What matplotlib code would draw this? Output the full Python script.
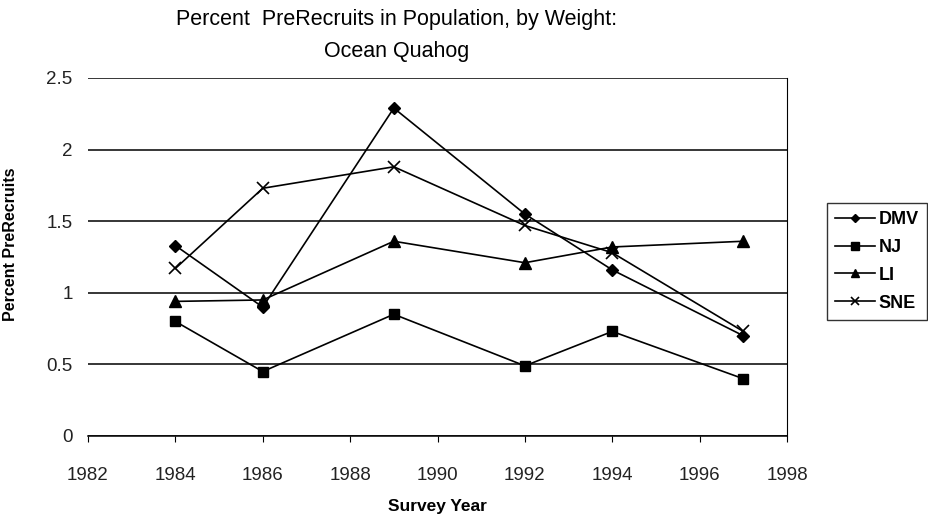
import matplotlib
matplotlib.use("Agg")
import matplotlib.pyplot as plt

years = [1984, 1986, 1989, 1992, 1994, 1997]
dmv = [1.33, 0.90, 2.29, 1.55, 1.16, 0.70]
nj = [0.80, 0.45, 0.85, 0.49, 0.73, 0.40]
li = [0.94, 0.95, 1.36, 1.21, 1.32, 1.36]
sne = [1.17, 1.73, 1.88, 1.47, 1.28, 0.73]
series_names = ["DMV", "NJ", "LI", "SNE"]
xticks = list(range(1982, 1999, 2))
yticks = [0, 0.5, 1, 1.5, 2, 2.5]
ytick_labels = ["0", "0.5", "1", "1.5", "2", "2.5"]

plt.rcParams['font.family'] = ['Liberation Sans', 'DejaVu Sans']

fig = plt.figure(figsize=(9.29, 5.23), dpi=100)
ax = fig.add_axes([88/929, 1-436/523, (787-88)/929, (436-78)/523])

styles = [
    dict(marker='D', ms=6.5),
    dict(marker='s', ms=7.5),
    dict(marker='^', ms=8),
    dict(marker='x', ms=9, mew=1.2),
]
for vals, name, st in zip([dmv, nj, li, sne], series_names, styles):
    ax.plot(years, vals, color='black', lw=1.2, label=name,
            markerfacecolor='black', markeredgecolor='black', **st)

ax.set_xlim(1982, 1998)
ax.set_ylim(0, 2.5)
ax.set_xticks(xticks)
ax.set_yticks(yticks)
ax.set_yticklabels(ytick_labels)
for y in yticks:
    ax.axhline(y, color='black', lw=1.1, zorder=0)
ax.spines['left'].set_visible(False)
ax.spines['top'].set_visible(False)
ax.spines['right'].set_linewidth(0.8)
ax.spines['bottom'].set_linewidth(1.1)
ax.tick_params(axis='y', length=0, pad=11, labelsize=13.5)
ax.tick_params(axis='x', length=4, width=0.8, direction='out', pad=18,
               labelsize=13.5)
for lab in ax.get_xticklabels() + ax.get_yticklabels():
    lab.set_color('#222222')

ax.set_xlabel("Survey Year", fontsize=12.5, fontweight='bold')
ax.xaxis.set_label_coords(0.5, -(499-436)/(436-78), transform=ax.transAxes)
ax.set_ylabel("Percent PreRecruits", fontsize=11.5, fontweight='bold')
ax.yaxis.set_label_coords(-(88-18)/(787-88), (436-244)/(436-78))

fig.text(397/929, 1-20/523, "Percent  PreRecruits in Population, by Weight:",
         ha='center', va='center', fontsize=15.5)
fig.text(397/929, 1-52/523, "Ocean Quahog", ha='center', va='center', fontsize=15.5)

leg = fig.legend(loc='upper left', bbox_to_anchor=(827/929, 1-203/523),
                 borderaxespad=0, frameon=True, fancybox=False, edgecolor='black',
                 handlelength=2.2, handletextpad=0.2,
                 labelspacing=0.6, borderpad=0.45, markerscale=0.7,
                 prop={'weight': 'bold', 'size': 13})
leg.get_frame().set_linewidth(1.0)

fig.savefig("out.png", dpi=100, facecolor='white')
